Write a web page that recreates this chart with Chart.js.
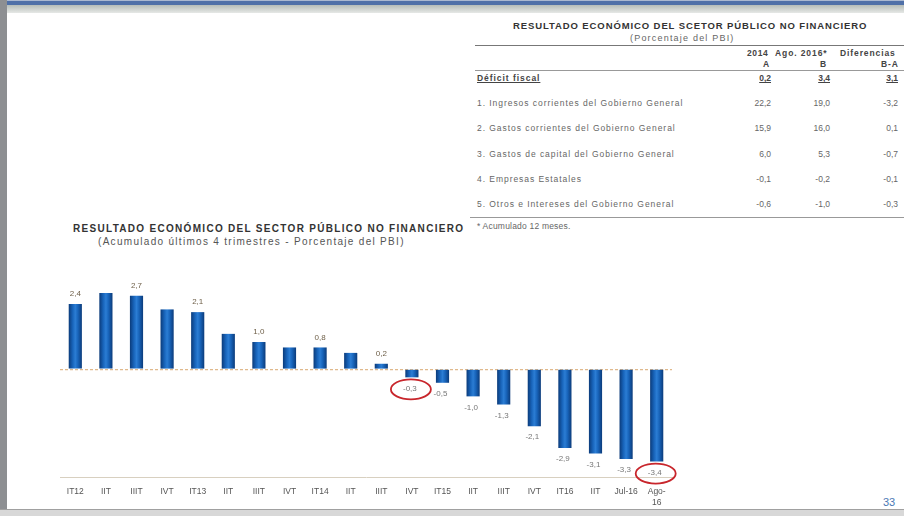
<!DOCTYPE html>
<html>
<head>
<meta charset="utf-8">
<script src="https://cdn.jsdelivr.net/npm/chart.js@4"></script>
<style>
  body { margin:0; width:904px; height:516px; overflow:hidden; background:#fff; font-family:"Liberation Sans", Arial, sans-serif; position:relative; }
  .abs { position:absolute; white-space:nowrap; line-height:10px; }
  #topbar { left:0; top:0; width:904px; height:5px; background:#4f70a8; border-top:1px solid #aab8d0; }
  #topband { left:0; top:5px; width:904px; height:8px; background:linear-gradient(#b5bcb8,#e6e8e6); }
  #leftbar { left:0; top:0; width:7px; height:516px; background:#8d8f92; }
  #bottomline { left:0; top:509px; width:904px; height:7px; background:#d8d8d8; border-top:1px solid #a0a0a0; }
  .tt { font-weight:bold; color:#333; }
  .row { font-size:8.5px; color:#666; letter-spacing:0.95px; }
  .num { font-size:8.5px; color:#666; text-align:right; width:34px; }
  .hd { font-size:8.5px; color:#444; font-weight:bold; letter-spacing:0.9px; }
  .line { height:1px; background:#777; line-height:1px; }
  #chartBox { left:0; top:262px; width:690px; height:254px; }
</style>
</head>
<body>
<div class="abs" id="topbar"></div>
<div class="abs" id="topband"></div>
<div class="abs" id="leftbar"></div>
<div class="abs" id="bottomline"></div>

<!-- table -->
<div class="abs tt" style="left:513px;top:21px;font-size:9.5px;letter-spacing:0.9px;">RESULTADO ECONÓMICO DEL SCETOR PÚBLICO NO FINANCIERO</div>
<div class="abs row" style="left:630px;top:33px;font-size:9px;letter-spacing:1.2px;">(Porcentaje del PBI)</div>
<div class="abs line" style="left:475px;top:45px;width:429px;"></div>
<div class="abs hd" style="left:747px;top:48px;letter-spacing:0.6px;">2014</div>
<div class="abs hd" style="left:775px;top:48px;letter-spacing:0.9px;">Ago. 2016*</div>
<div class="abs hd" style="left:840px;top:48px;">Diferencias</div>
<div class="abs hd" style="left:763px;top:59px;">A</div>
<div class="abs hd" style="left:820px;top:59px;">B</div>
<div class="abs hd" style="left:881px;top:59px;">B-A</div>
<div class="abs line" style="left:475px;top:70px;width:429px;background:#999;"></div>
<div class="abs hd" style="left:477px;top:73px;text-decoration:underline;letter-spacing:0.95px;">Déficit fiscal</div>
<div id="tbl"></div>
<div class="abs line" style="left:470px;top:217px;width:434px;background:#999;"></div>
<div class="abs row" style="left:477px;top:221px;font-size:8.5px;letter-spacing:0.2px;">* Acumulado 12 meses.</div>

<!-- chart title -->
<div class="abs tt" style="left:73px;top:224px;font-size:10px;letter-spacing:1.3px;">RESULTADO ECONÓMICO DEL SECTOR PÚBLICO NO FINANCIERO</div>
<div class="abs" style="left:98px;top:237px;font-size:10px;letter-spacing:1.3px;color:#555;">(Acumulado últimos 4 trimestres - Porcentaje del PBI)</div>

<div class="abs" style="left:883px;top:497px;font-size:11px;color:#4a78b4;">33</div>

<div class="abs" id="chartBox"><canvas id="resultChart" width="690" height="254"></canvas></div>

<script>
// DATA
const categories = ["IT12","IIT","IIIT","IVT","IT13","IIT","IIIT","IVT","IT14","IIT","IIIT","IVT","IT15","IIT","IIIT","IVT","IT16","IIT","Jul-16",["Ago-","16"]];
const resultado = [2.4, 2.8, 2.7, 2.2, 2.1, 1.3, 1.0, 0.8, 0.8, 0.6, 0.2, -0.3, -0.5, -1.0, -1.3, -2.1, -2.9, -3.1, -3.3, -3.4];
const labelledIdx = [0, 2, 4, 6, 8, 10, 11, 12, 13, 14, 15, 16, 17, 18, 19];
const circledIdx = [11, 19];

const rowNames = ["Déficit fiscal",
  "1. Ingresos corrientes del Gobierno General",
  "2. Gastos corrientes del Gobierno General",
  "3. Gastos de capital del Gobierno General",
  "4. Empresas Estatales",
  "5. Otros e Intereses del Gobierno General"];
const col2014 = [0.2, 22.2, 15.9, 6.0, -0.1, -0.6];
const colAgo2016 = [3.4, 19.0, 16.0, 5.3, -0.2, -1.0];
const colDif = [3.1, -3.2, 0.1, -0.7, -0.1, -0.3];

function fmt(v) {
  return v.toFixed(1).replace(".", ",");
}

// TABLE
const rowTops = [73, 98, 123, 149, 174, 199];
let html = "";
rowNames.forEach(function (name, i) {
  const top = rowTops[i];
  const first = i === 0;
  const style = first ? "font-weight:bold;color:#444;text-decoration:underline;" : "";
  if (!first) html += '<div class="abs row" style="left:477px;top:' + top + 'px;">' + name + '</div>';
  html += '<div class="abs num" style="left:737px;top:' + top + 'px;' + style + '">' + fmt(col2014[i]) + '</div>';
  html += '<div class="abs num" style="left:796px;top:' + top + 'px;' + style + '">' + fmt(colAgo2016[i]) + '</div>';
  html += '<div class="abs num" style="left:864px;top:' + top + 'px;' + style + '">' + fmt(colDif[i]) + '</div>';
});
document.getElementById("tbl").innerHTML = html;

// CHART
function barFill(c) {
  const xs = c.chart.scales.x;
  if (!xs || xs.width === undefined) return "#1562b8";
  const cx = xs.getPixelForValue(c.dataIndex);
  const w = xs.width / categories.length * 0.43;
  const g = c.chart.ctx.createLinearGradient(cx - w / 2, 0, cx + w / 2, 0);
  g.addColorStop(0, "#0b3b7a");
  g.addColorStop(0.3, "#1864ba");
  g.addColorStop(0.5, "#2b7dd4");
  g.addColorStop(0.7, "#1864ba");
  g.addColorStop(1, "#0b3b7a");
  return g;
}

const barLabels = {
  id: "barLabels",
  afterDatasetsDraw(chart) {
    const ctx = chart.ctx;
    const meta = chart.getDatasetMeta(0);
    ctx.save();
    ctx.font = "8px 'Liberation Sans', Arial, sans-serif";
    ctx.textAlign = "center";
    ctx.textBaseline = "middle";
    labelledIdx.forEach(function (i) {
      const bar = meta.data[i];
      const v = resultado[i];
      const y = v >= 0 ? bar.y - 10 : bar.y + 11;
      ctx.fillStyle = v >= 0 ? "#6e5f48" : "#777";
      ctx.fillText(fmt(v), bar.x - (v < 0 ? 2 : 0), y);
      if (circledIdx.indexOf(i) >= 0) {
        ctx.strokeStyle = "#c8262c";
        ctx.lineWidth = 1.8;
        ctx.beginPath();
        ctx.ellipse(bar.x - 1, y + 1, 20, 10, 0, 0, Math.PI * 2);
        ctx.stroke();
      }
    });
    ctx.restore();
  }
};

new Chart(document.getElementById("resultChart"), {
  type: "bar",
  data: {
    labels: categories,
    datasets: [{
      data: resultado,
      backgroundColor: barFill,
      borderWidth: 0,
      barPercentage: 0.43,
      categoryPercentage: 1
    }]
  },
  options: {
    responsive: false,
    animation: false,
    layout: { padding: { left: 60, right: 18, top: 8, bottom: 8 } },
    plugins: { legend: { display: false }, tooltip: { enabled: false } },
    scales: {
      x: {
        grid: { display: false },
        border: { display: true, color: "#d8d0c0", dash: [2, 2] },
        ticks: {
          color: "#555",
          font: { size: 8.5, family: "'Liberation Sans', Arial, sans-serif", lineHeight: 1.3 },
          padding: 0,
          maxRotation: 0,
          autoSkip: false
        }
      },
      y: {
        min: -4.0,
        max: 3.65,
        ticks: { display: false, stepSize: 0.05 },
        border: { display: false, dash: [3, 2] },
        grid: {
          drawTicks: false,
          color: function (c) { return Math.abs(c.tick.value) < 1e-6 ? "#e0b98c" : "transparent"; },
          lineWidth: 1.2
        }
      }
    }
  },
  plugins: [barLabels]
});
</script>
</body>
</html>
